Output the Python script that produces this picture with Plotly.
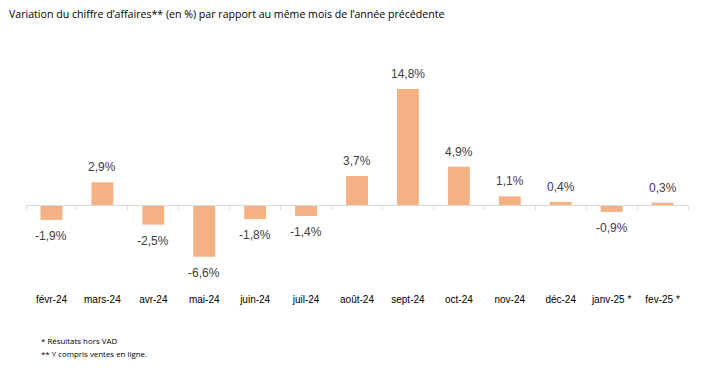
import plotly.graph_objects as go

categories = ["févr-24", "mars-24", "avr-24", "mai-24", "juin-24", "juil-24", "août-24",
              "sept-24", "oct-24", "nov-24", "déc-24", "janv-25 *", "fev-25 *"]
values = [-1.9, 2.9, -2.5, -6.6, -1.8, -1.4, 3.7, 14.8, 4.9, 1.1, 0.4, -0.9, 0.3]
labels = [f"{v:.1f}%".replace(".", ",") for v in values]

title = "Variation du chiffre d’affaires** (en %) par rapport au même mois de l’année précédente"
notes = ["* Résultats hors VAD", "** Y compris ventes en ligne."]

ymin, ymax = -10.33, 21.05
zero_pos = (0 - ymin) / (ymax - ymin)

fig = go.Figure()
fig.add_trace(go.Bar(x=categories, y=values, marker_color="#F4B183",
                     marker_line_width=0, width=0.43, hoverinfo="skip"))
fig.add_trace(go.Scatter(x=categories, y=[0]*len(categories), xaxis="x2", mode="lines",
                         line=dict(color="rgba(0,0,0,0)"), hoverinfo="skip", showlegend=False))

for c, v, t in zip(categories, values, labels):
    fig.add_annotation(x=c, y=v, text=t, showarrow=False,
                       yanchor="bottom" if v >= 0 else "top",
                       yshift=6 if v >= 0 else -7,
                       font=dict(family="Liberation Sans, Arial", size=12, color="#404040"))

fig.add_annotation(xref="paper", yref="paper", x=-0.028, y=1.106, xanchor="left", yanchor="middle",
                   text=title, showarrow=False,
                   font=dict(family="Open Sans", size=10.6, color="#000000"))
for i, n in enumerate(notes):
    fig.add_annotation(xref="paper", yref="paper", x=0.019, y=-0.222 - i*0.055, xanchor="left",
                       yanchor="middle", text=n, showarrow=False,
                       font=dict(family="Open Sans", size=7.9, color="#000000"))

fig.update_layout(
    width=710, height=368, margin=dict(l=26, r=22, t=40, b=82, autoexpand=False),
    plot_bgcolor="white", paper_bgcolor="white", showlegend=False, bargap=0.57,
    xaxis=dict(categoryorder="array", categoryarray=categories, showline=False, ticks="",
               showgrid=False, automargin=False,
               tickfont=dict(family="Liberation Sans Narrow, Arial Narrow, Liberation Sans",
                             size=10, color="#000000"), ticklabelstandoff=6),
    xaxis2=dict(categoryorder="array", categoryarray=categories, overlaying="x", matches="x",
                anchor="free", position=zero_pos, side="bottom", showline=True, linecolor="#D9D9D9",
                linewidth=1, ticks="outside", tickson="boundaries", ticklen=4, tickcolor="#D9D9D9",
                showticklabels=False, showgrid=False, automargin=False),
    yaxis=dict(range=[ymin, ymax], visible=False, showgrid=False, zeroline=False, automargin=False),
)

fig.write_html("out.html", config={"displayModeBar": False},
               post_script="document.body.style.margin='0';")
